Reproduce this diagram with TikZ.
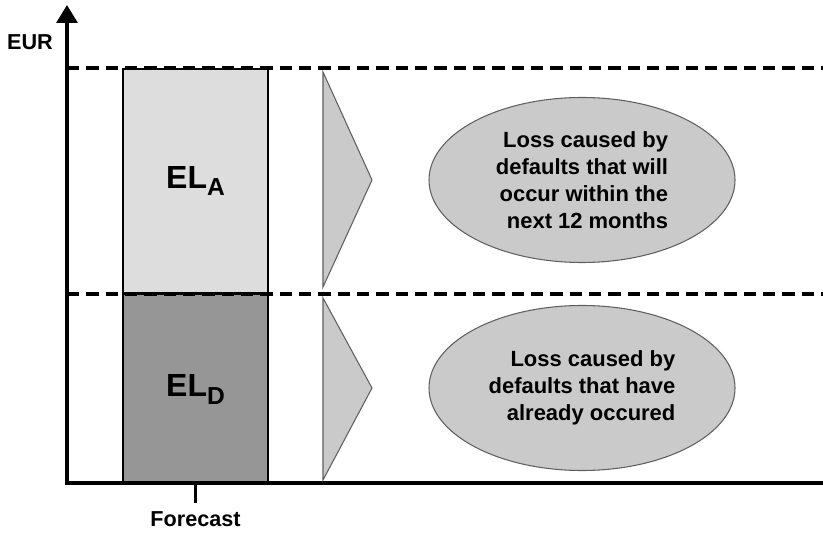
\documentclass[tikz,border=0pt]{standalone}
\usepackage{fontspec}
\setmainfont{Liberation Sans}
\usetikzlibrary{positioning,arrows.meta,shapes.geometric}
\definecolor{LightGray}{RGB}{221,221,221}
\definecolor{DarkGray}{RGB}{150,150,150}
\definecolor{MidGray}{RGB}{202,202,202}
\definecolor{Edge}{RGB}{95,95,95}
\newcommand\lowsub[1]{\raisebox{-4.5pt}{\fontsize{14}{14}\selectfont #1}}

\begin{document}
\begin{tikzpicture}[
 b/.style={draw=black,line width=.8pt,minimum width=2.9cm,inner sep=0,font=\fontsize{18.2}{20}\selectfont\bfseries},
 e/.style={ellipse,draw=Edge,fill=MidGray,line width=.6pt,minimum width=6.12cm,minimum height=3.3cm,inner sep=0,align=right,font=\fontsize{12.5}{15.3}\selectfont\bfseries},
 t/.style={draw=Edge,fill=MidGray,line width=.6pt,line join=miter},
 lbl/.style={font=\fontsize{12.3}{14}\selectfont\bfseries},
 ax/.style={line width=1.8pt},
 d/.style={line width=2.2pt,dash pattern=on 7pt off 4pt}]
\useasboundingbox (0,0) rectangle (16.46,10.68);
\coordinate (o) at (1.34,1.02);
\coordinate (top) at (1.34,10.58);
\coordinate (xend) at (16.46,1.02);
\node[b,fill=LightGray,minimum height=4.48cm] (elA) at (3.91,7.06) {EL\lowsub{A}};
\node[b,fill=DarkGray,minimum height=3.8cm,below=0cm of elA] (elD) {EL\lowsub{D}};
% dashed levels
\draw[d] (o |- elA.north) -- (xend |- elA.north);
\draw[d] (o |- elA.south) -- (xend |- elA.south);
% axes
\draw[ax,{Triangle[width=.42cm,length=.36cm]}-] (top) -- (o) -- (xend);
\draw[ax] (o -| elD.south) -- ++(0,-.4) coordinate (tk);
\node[lbl,below=.05cm of tk] (fc) {Forecast};
\node[lbl] (eur) at (0.6,9.84) {EUR};
% pointers
\draw[t] (6.46,9.24) -- (7.44,7.08) -- (6.46,4.94) -- cycle;
\draw[t] (6.46,4.72) -- (7.44,2.92) -- (6.46,1.08) -- cycle;
\node[e] (la) at (11.64,7.08) {Loss caused by\\defaults that will\\occur within the\\next 12 months};
\node[e] (ld) at (11.64,2.92) {Loss caused by\\defaults that have\\already occured};
\end{tikzpicture}
\end{document}
